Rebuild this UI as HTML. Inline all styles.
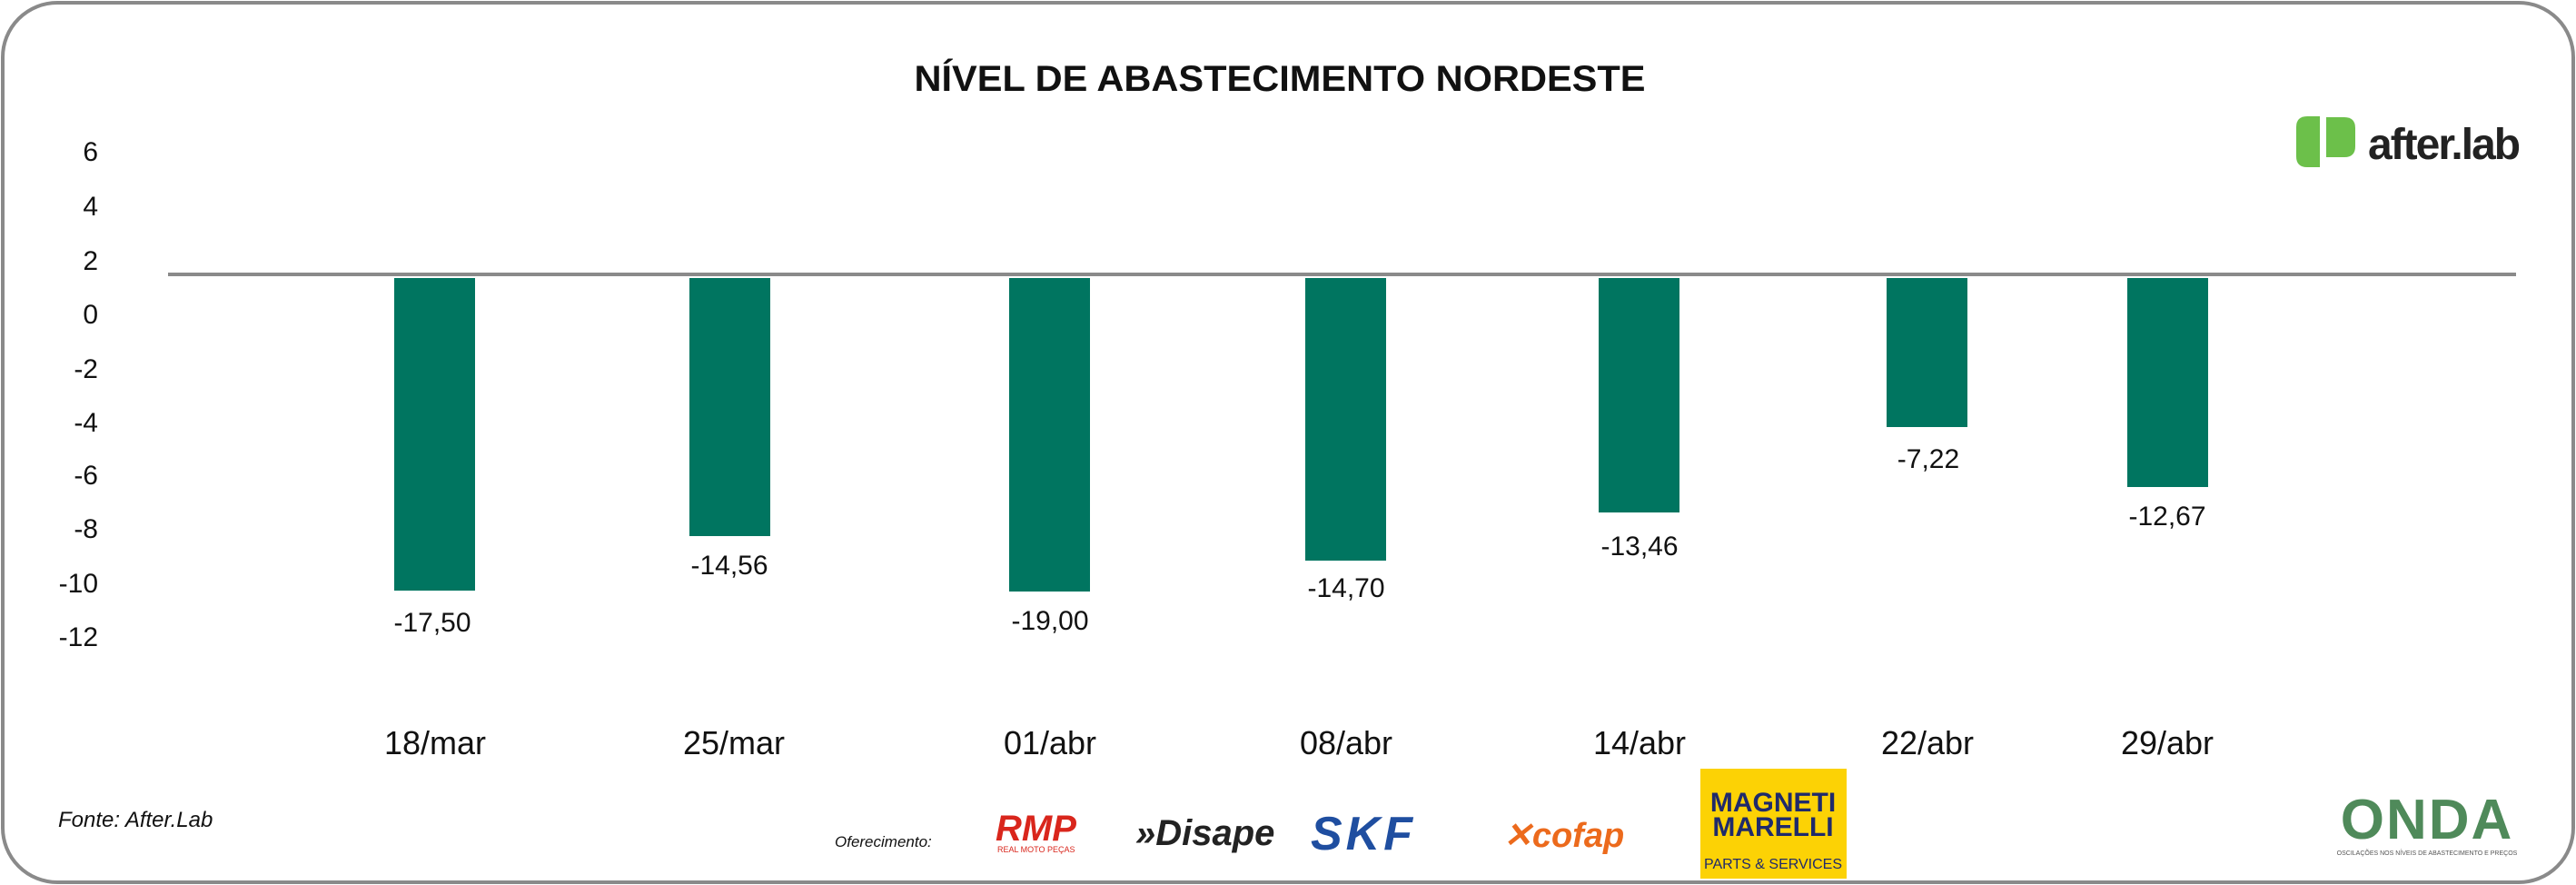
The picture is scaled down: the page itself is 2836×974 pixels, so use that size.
<!DOCTYPE html>
<html><head><meta charset="utf-8"><style>
html,body{margin:0;padding:0;background:#fff;}
svg{display:block;}
text{font-family:"Liberation Sans",sans-serif;}
</style></head><body>
<svg width="2836" height="974" viewBox="0 0 2836 974" xmlns="http://www.w3.org/2000/svg">
<rect x="3" y="3" width="2830" height="968" rx="60" ry="60" fill="#fff" stroke="#8a8a8a" stroke-width="4"/>
<text x="1409" y="100" font-size="40" font-weight="bold" text-anchor="middle" fill="#111" textLength="805" lengthAdjust="spacingAndGlyphs">NÍVEL DE ABASTECIMENTO NORDESTE</text>
<g font-size="30" fill="#111" text-anchor="end">
<text x="108" y="177">6</text><text x="108" y="237">4</text><text x="108" y="297">2</text>
<text x="108" y="356">0</text><text x="108" y="416">-2</text><text x="108" y="475">-4</text>
<text x="108" y="533">-6</text><text x="108" y="592">-8</text><text x="108" y="652">-10</text>
<text x="108" y="711">-12</text>
</g>
<line x1="185" y1="302" x2="2770" y2="302" stroke="#8a8a8a" stroke-width="4"/>
<g fill="#007560">
<rect x="434" y="306" width="89" height="344"/>
<rect x="759" y="306" width="89" height="284"/>
<rect x="1111" y="306" width="89" height="345"/>
<rect x="1437" y="306" width="89" height="311"/>
<rect x="1760" y="306" width="89" height="258"/>
<rect x="2077" y="306" width="89" height="164"/>
<rect x="2342" y="306" width="89" height="230"/>
</g>
<g font-size="30" fill="#111" text-anchor="middle">
<text x="476" y="695">-17,50</text>
<text x="803" y="632">-14,56</text>
<text x="1156" y="693">-19,00</text>
<text x="1482" y="657">-14,70</text>
<text x="1805" y="611">-13,46</text>
<text x="2123" y="515">-7,22</text>
<text x="2386" y="578">-12,67</text>
</g>
<g font-size="36" fill="#111" text-anchor="middle">
<text x="479" y="830">18/mar</text>
<text x="808" y="830">25/mar</text>
<text x="1156" y="830">01/abr</text>
<text x="1482" y="830">08/abr</text>
<text x="1805" y="830">14/abr</text>
<text x="2122" y="830">22/abr</text>
<text x="2386" y="830">29/abr</text>
</g>
<text x="64" y="910" font-size="24" font-style="italic" fill="#111">Fonte: After.Lab</text>
<text x="919" y="932" font-size="17" font-style="italic" fill="#111">Oferecimento:</text>
<path d="M2528 140 q0-12 12-12 h14 v56 h-14 q-12 0-12-12z" fill="#6cc04a"/>
<path d="M2561 129 h20 q12 0 12 12 v20 q0 12-12 12 h-20z" fill="#6cc04a"/>
<text x="2607" y="175" font-size="48" font-weight="bold" fill="#222" letter-spacing="-2">after.lab</text>
<text x="1096" y="925" font-size="40" font-weight="bold" font-style="italic" fill="#d9261c">RMP</text>
<text x="1098" y="938" font-size="9" fill="#d9261c">REAL MOTO PEÇAS</text>
<text x="1250" y="930" font-size="40" font-weight="bold" font-style="italic" fill="#222">»Disape</text>
<text x="1443" y="935" font-size="52" font-weight="bold" font-style="italic" fill="#1f4ea0" letter-spacing="4">SKF</text>
<text x="1655" y="932" font-size="38" font-weight="bold" font-style="italic" fill="#ec6a1c">✕cofap</text>
<rect x="1872" y="846" width="161" height="121" fill="#fcd205"/>
<text x="1952" y="893" font-size="30" font-weight="bold" fill="#1f2a6b" text-anchor="middle">MAGNETI</text>
<text x="1952" y="920" font-size="30" font-weight="bold" fill="#1f2a6b" text-anchor="middle">MARELLI</text>
<text x="1952" y="956" font-size="16" fill="#1f2a6b" text-anchor="middle">PARTS &amp; SERVICES</text>
<text x="2672" y="923" font-size="62" font-weight="bold" fill="#4f8a5a" text-anchor="middle" letter-spacing="2">ONDA</text>
<text x="2672" y="941" font-size="7" fill="#555" text-anchor="middle">OSCILAÇÕES NOS NÍVEIS DE ABASTECIMENTO E PREÇOS</text>
</svg>
</body></html>
